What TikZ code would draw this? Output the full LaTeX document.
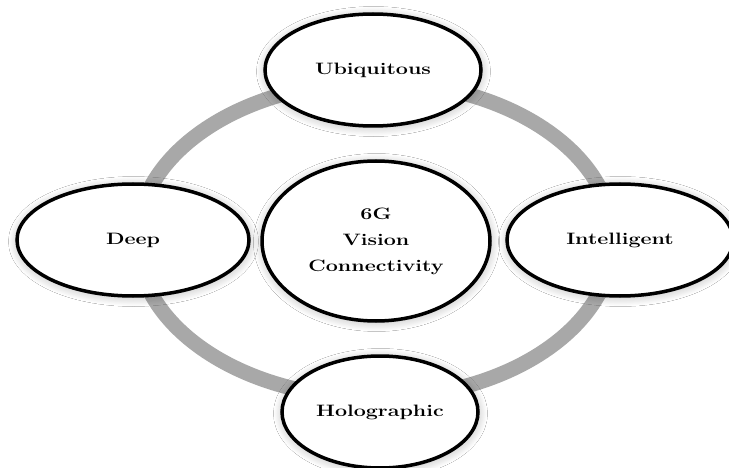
\documentclass[tikz,border=0pt]{standalone}
\usepackage{graphicx}
\usetikzlibrary{shapes.geometric,shadows.blur}
\definecolor{ringgray}{RGB}{168,168,168}
% labels are set wide, with stretched letters
\newcommand{\widetext}[1]{\scalebox{1.3}[1]{#1}}
\begin{document}
\begin{tikzpicture}[x=1pt,y=-1pt,
  bubble/.style={ellipse, draw=black, line width=3.5pt, fill=white,
    inner sep=0pt, align=center,
    font=\fontsize{16.5}{26}\selectfont\bfseries,
    blur shadow={shadow xshift=0.5pt, shadow yshift=-1.5pt,
      shadow blur radius=9pt, shadow blur steps=14,
      shadow opacity=28, shadow scale=1.0}},
  ringline/.style={draw=ringgray, line width=15pt}]
\useasboundingbox (0,0) rectangle (729,468);
\clip (0,0) rectangle (729,468);
\fill[white] (0,0) rectangle (729,468);

% the gray ring joining the four outer bubbles
\coordinate (mid) at (375,240);
\draw[ringline] (mid) ellipse [x radius=238pt, y radius=158pt];

% centre and outer bubbles
\node[bubble, minimum width=228pt, minimum height=160pt] (C) at (376,241)
  {\widetext{6G}\\\widetext{Vision}\\\widetext{Connectivity}};
\node[bubble, minimum width=216pt, minimum height=112pt] (U) at (373,70)
  {\widetext{Ubiquitous}};
\node[bubble, minimum width=232pt, minimum height=112pt] (D) at (133,240)
  {\widetext{Deep}};
\node[bubble, minimum width=226pt, minimum height=112pt] (I) at (620,240)
  {\widetext{Intelligent}};
\node[bubble, minimum width=196pt, minimum height=112pt] (H) at (380,412)
  {\widetext{Holographic}};
\end{tikzpicture}
\end{document}
